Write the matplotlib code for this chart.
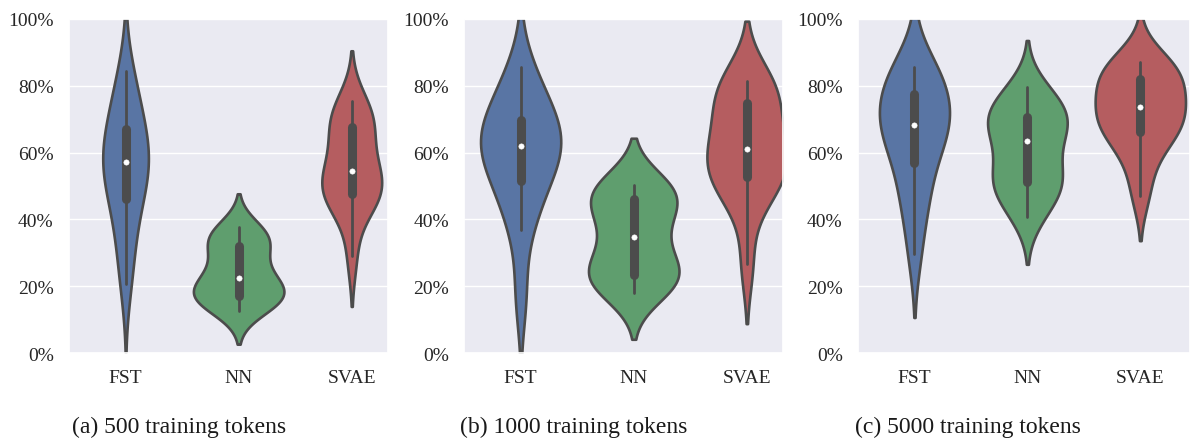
import numpy as np
import pandas as pd
import matplotlib
matplotlib.use("Agg")
import matplotlib.pyplot as plt
import seaborn as sns
from matplotlib.ticker import PercentFormatter

models = ["FST", "NN", "SVAE"]
colors = ["#4C72B0", "#55A868", "#C44E52"]
captions = ["(a) 500 training tokens", "(b) 1000 training tokens", "(c) 5000 training tokens"]

# per-language accuracy (%) for each system, estimated from the violins
fst_500 = [20.7, 30, 38, 44, 48.2, 52, 55, 57.1, 59, 61, 65, 69.2, 72, 78, 84.5]
nn_500 = [12.5, 14.5, 16, 17, 17.4, 18.5, 20, 22.4, 24, 27, 31, 33.2, 34, 36, 37.8]
svae_500 = [28.9, 43, 46, 47, 48.2, 49.5, 51.5, 54.6, 56.5, 60, 66, 69.2, 70, 71.5, 75.5]

fst_1000 = [17, 36.9, 44, 49, 54.2, 57, 60, 62.1, 63.5, 65, 67.5, 71.7, 74, 79, 85.5]
nn_1000 = [18, 20, 22, 23, 23.8, 26, 30, 34.6, 38, 42, 44.5, 47.7, 48.5, 49.5, 50.4]
svae_1000 = [26.6, 45, 50, 52, 53.2, 56, 58.5, 61.1, 64, 67, 72, 77.8, 79, 80, 81.5]

fst_5000 = [29.6, 42, 48, 53, 60.8, 64, 66, 68.3, 70, 72.5, 75, 80, 82, 84, 85.5]
nn_5000 = [40.6, 45, 49, 51, 51.6, 54, 58, 63.4, 66, 68, 69.6, 71.6, 73, 76, 79.5]
svae_5000 = [47.1, 56, 63, 65.5, 66.7, 69, 71, 73.6, 75.5, 77.5, 80, 84, 85, 86, 87]

panels = [
    [fst_500, nn_500, svae_500],
    [fst_1000, nn_1000, svae_1000],
    [fst_5000, nn_5000, svae_5000],
]

sns.set_theme(style="darkgrid")
plt.rcParams["font.family"] = ["Liberation Serif", "DejaVu Serif"]

fig = plt.figure(figsize=(11.9, 4.39), dpi=100)

# the three sub-figures are cropped in the original, so place axes by hand
boxes = [
    (0.058, 0.1936, 0.268, 0.761),
    (0.390, 0.1936, 0.268, 0.761),
    (0.721, 0.1936, 0.279, 0.761),
]
xright = [2.32, 2.32, 2.44]
cap_x = [0.0602, 0.3866, 0.7185]

for i, groups in enumerate(panels):
    ax = fig.add_axes(boxes[i])
    df = pd.DataFrame({
        "model": np.repeat(models, [len(g) for g in groups]),
        "acc": np.concatenate(groups),
    })
    sns.violinplot(data=df, x="model", y="acc", hue="model", palette=colors,
                   order=models, hue_order=models, legend=False,
                   common_norm=True, linewidth=1.9,
                   inner_kws=dict(box_width=6.5, whis_width=2, marker="o",
                                  markersize=3.8, markeredgewidth=0.4),
                   ax=ax)
    ax.set_ylim(0, 100)
    ax.set_xlim(-0.5, xright[i])
    ax.set_yticks([0, 20, 40, 60, 80, 100])
    ax.yaxis.set_major_formatter(PercentFormatter(decimals=0))
    ax.set_xlabel("")
    ax.set_ylabel("")
    ax.tick_params(axis="both", labelsize=14, colors="#262626")
    ax.tick_params(axis="x", pad=5.5)
    ax.tick_params(axis="y", pad=5)
    fig.text(cap_x[i], 0.013, captions[i], fontsize=17, ha="left",
             va="baseline", color="#1a1a1a")

fig.savefig("out.png", dpi=100)
